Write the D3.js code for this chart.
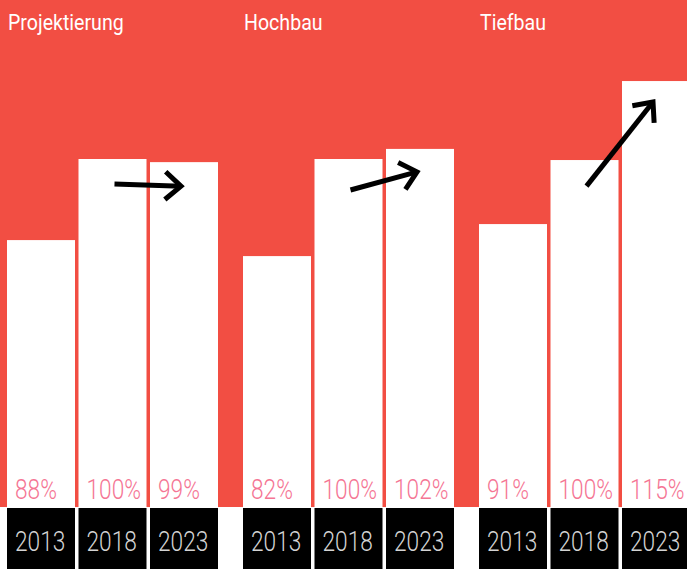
<!DOCTYPE html>
<html>
<head>
<meta charset="utf-8">
<script src="https://cdn.jsdelivr.net/npm/d3@7"></script>
<style>
  body { margin: 0; background: #fff; }
  svg { display: block; }
</style>
</head>
<body>
<div id="chart"></div>
<script>
// data
const sectors = ["Projektierung", "Hochbau", "Tiefbau"];
const years = ["2013", "2018", "2023"];
// printed labels (share relative to 2018)
const shareLabels = [
    ["88%", "100%", "99%"],
    ["82%", "100%", "102%"],
    ["91%", "100%", "115%"]
];
// bar lengths as drawn (2018 Projektierung = 100)
const barLevels = [
    [76.7, 100, 99.1],
    [72.1, 100, 102.9],
    [81.3, 99.7, 122.4]
];
// trend arrows: level at the 2018 bar -> level at the 2023 bar
const arrowFrom = [92.8, 91.1, 92.2];
const arrowTo = [92.2, 96.3, 116.4];

const width = 687, height = 569;
const baseY = 507;
const red = "#f24e43";

const svg = d3.select("#chart")
    .append("svg")
    .attr("width", width)
    .attr("height", height);

const x0 = d3.scaleBand()
    .domain(sectors)
    .range([7, 7 + 236 * sectors.length])
    .padding(0);

const x1 = d3.scaleBand()
    .domain(years)
    .range([0, 211])
    .paddingInner(0.049)
    .paddingOuter(0);

const y = d3.scaleLinear()
    .domain([0, 100])
    .range([baseY, 159]);

svg.append("rect")
    .attr("x", 0)
    .attr("y", 0)
    .attr("width", width)
    .attr("height", baseY)
    .attr("fill", red);

const groups = svg.selectAll("g.sector")
    .data(sectors)
    .join("g")
    .attr("class", "sector")
    .attr("transform", d => "translate(" + x0(d) + ",0)");

// titles
groups.append("text")
    .attr("transform", "translate(1,30) scale(0.89,1)")
    .attr("fill", "#fff")
    .style("font-family", "Roboto, 'Liberation Sans', sans-serif")
    .style("font-size", "22px")
    .text(d => d);

groups.each(function (sector, si) {
    const g = d3.select(this);
    const rows = years.map((yr, i) => ({ year: yr, level: barLevels[si][i], label: shareLabels[si][i] }));

    g.selectAll("rect.bar")
        .data(rows)
        .join("rect")
        .attr("class", "bar")
        .attr("x", d => x1(d.year))
        .attr("y", d => y(d.level))
        .attr("width", x1.bandwidth())
        .attr("height", d => baseY - y(d.level))
        .attr("fill", "#fff");

    g.selectAll("text.share")
        .data(rows)
        .join("text")
        .attr("class", "share")
        .attr("transform", d => "translate(" + (x1(d.year) + 8) + "," + (baseY - 8) + ") scale(0.81,1)")
        .attr("fill", "#f57594")
        .style("font-family", "Roboto, sans-serif")
        .style("font-weight", 300)
        .style("font-size", "28px")
        .text(d => d.label);

    g.selectAll("rect.yearbox")
        .data(rows)
        .join("rect")
        .attr("class", "yearbox")
        .attr("x", d => x1(d.year))
        .attr("y", baseY + 1)
        .attr("width", x1.bandwidth())
        .attr("height", height - baseY)
        .attr("fill", "#000");

    g.selectAll("text.year")
        .data(rows)
        .join("text")
        .attr("class", "year")
        .attr("transform", d => "translate(" + (x1(d.year) + 8) + ",551) scale(0.81,1)")
        .attr("fill", "#d4d4d4")
        .style("font-family", "Roboto, sans-serif")
        .style("font-weight", 300)
        .style("font-size", "28px")
        .text(d => d.year);

    // trend arrow
    const xs = x1("2018") + x1.bandwidth() / 2 + 2;
    const xe = x1("2023") + x1.bandwidth() / 2 - 3;
    const ys = y(arrowFrom[si]);
    const ye = y(arrowTo[si]);
    const ang = Math.atan2(ye - ys, xe - xs);
    const head = 21, spread = Math.PI * 0.23;
    const a1 = [xe - head * Math.cos(ang - spread), ye - head * Math.sin(ang - spread)];
    const a2 = [xe - head * Math.cos(ang + spread), ye - head * Math.sin(ang + spread)];

    g.append("path")
        .attr("d", "M" + xs + "," + ys + "L" + xe + "," + ye)
        .attr("stroke", "#000")
        .attr("stroke-width", 5)
        .attr("fill", "none");

    g.append("path")
        .attr("d", "M" + a1 + "L" + xe + "," + ye + "L" + a2)
        .attr("stroke", "#000")
        .attr("stroke-width", 5)
        .attr("stroke-linejoin", "miter")
        .attr("fill", "none");
});
</script>
</body>
</html>
